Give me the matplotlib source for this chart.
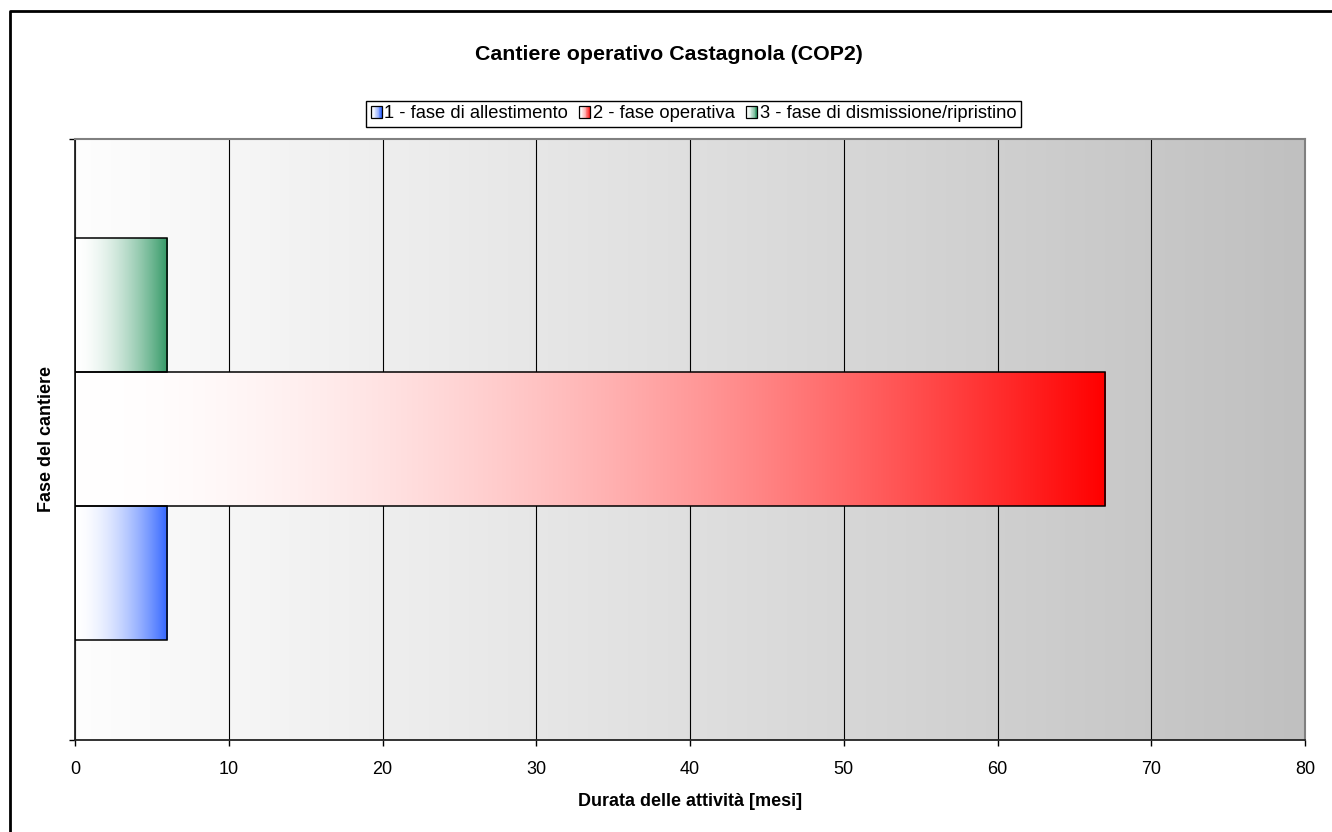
import numpy as np
import matplotlib
matplotlib.use("Agg")
import matplotlib.pyplot as plt
from matplotlib.colors import to_rgb
from matplotlib.patches import Rectangle
from matplotlib.legend_handler import HandlerBase
from matplotlib.lines import Line2D

title = "Cantiere operativo Castagnola (COP2)"
phases = ["1 - fase di allestimento", "2 - fase operativa", "3 - fase di dismissione/ripristino"]
durations = [6, 67, 6]
phase_colors = ["#3366FF", "#FF0000", "#339966"]
x_ticks = [0, 10, 20, 30, 40, 50, 60, 70, 80]
x_label = "Durata delle attività [mesi]"
y_label = "Fase del cantiere"

plt.rcParams['font.family'] = ['Liberation Sans', 'DejaVu Sans']

W, H = 1332, 832
fig = plt.figure(figsize=(W / 100, H / 100), dpi=100)
ax = fig.add_axes([75 / W, 1 - 740 / H, (1305 - 75) / W, (740 - 139) / H])


def ramp(color, n=256, gamma=1.8):
    """White-to-colour ramp, lighter for longer on the left side."""
    c = np.array(to_rgb(color))
    t = np.linspace(0, 1, n) ** gamma
    return (1 - t)[:, None] * np.ones(3) + t[:, None] * c


# plot-area background: white fading to light grey
bg = np.linspace(0.995, 0.753, 512)
bg_img = np.repeat(bg[None, :, None], 3, axis=2)
ax.imshow(bg_img, extent=(0, 1, 0, 1), transform=ax.transAxes,
          aspect='auto', zorder=0)

# grouped horizontal bars, one per phase
bar_h = 134 / 601
offsets = (np.arange(len(durations)) - (len(durations) - 1) / 2) * bar_h
bars = ax.barh(offsets, durations, height=bar_h, color='none',
               edgecolor='black', linewidth=1.1, zorder=3)
for bar, col in zip(bars, phase_colors):
    x0, y0 = bar.get_x(), bar.get_y()
    w, h = bar.get_width(), bar.get_height()
    im = ax.imshow(ramp(col)[None, :, :], extent=(x0, x0 + w, y0, y0 + h),
                   aspect='auto', zorder=2, interpolation='bilinear')
    im.set_clip_path(bar)

ax.set_xlim(0, 80)
ax.set_ylim(-0.5, 0.5)
ax.set_xticks(x_ticks)
ax.set_yticks([-0.5, 0.5])
ax.set_yticklabels([])
ax.set_axisbelow(True)
ax.grid(axis='x', color='black', linewidth=0.8)
ax.grid(axis='y', visible=False)

for side in ('left', 'bottom'):
    ax.spines[side].set_color('#222222')
    ax.spines[side].set_linewidth(1.3)
for side in ('top', 'right'):
    ax.spines[side].set_color('#808080')
    ax.spines[side].set_linewidth(1.5)

ax.tick_params(axis='x', direction='out', length=4, width=1, labelsize=13, pad=11)
ax.tick_params(axis='y', direction='out', length=4, width=1)

ax.set_xlabel(x_label, fontsize=13, fontweight='bold')
ax.xaxis.label.set_va('center')
ax.xaxis.set_label_coords(0.5, (740 - 801) / 601)
ax.set_ylabel(y_label, fontsize=13, fontweight='bold')
ax.yaxis.label.set_va('center')
ax.yaxis.set_label_coords((47 - 75) / 1230, 0.5)


class GradientPatchHandler(HandlerBase):
    def __init__(self, color):
        super().__init__()
        self.color = color

    def create_artists(self, legend, orig_handle, xdescent, ydescent,
                       width, height, fontsize, trans):
        cols = ramp(self.color, n=14)
        n = len(cols)
        arts = []
        for i, c in enumerate(cols):
            r = Rectangle((-xdescent + i * width / n, -ydescent),
                          width / n * 1.05, height, facecolor=c,
                          edgecolor='none', transform=trans, antialiased=False)
            arts.append(r)
        arts.append(Rectangle((-xdescent, -ydescent), width, height,
                              facecolor='none', edgecolor='black', lw=0.9,
                              transform=trans))
        return arts


proxies = [Rectangle((0, 0), 1, 1, label=p) for p in phases]
handler_map = {h: GradientPatchHandler(c) for h, c in zip(proxies, phase_colors)}
leg = fig.legend(proxies, phases, loc='center',
                 bbox_to_anchor=(693.5 / W, 1 - 114 / H), ncol=3,
                 fontsize=13.2, handlelength=0.6, handleheight=0.6,
                 handletextpad=0.15, columnspacing=0.6, borderpad=0.25,
                 borderaxespad=0, fancybox=False, framealpha=1,
                 edgecolor='black', handler_map=handler_map)
leg.get_frame().set_linewidth(1.0)

fig.text(669 / W, 1 - 55 / H, title, ha='center', va='center',
         fontsize=15.4, fontweight='bold')

# outer chart border (left and top edges)
fig.add_artist(Line2D([10.5 / W, 10.5 / W, 1.0], [0, 1 - 11 / H, 1 - 11 / H],
                      color='black', lw=2, transform=fig.transFigure))

fig.savefig('out.png', dpi=100)
